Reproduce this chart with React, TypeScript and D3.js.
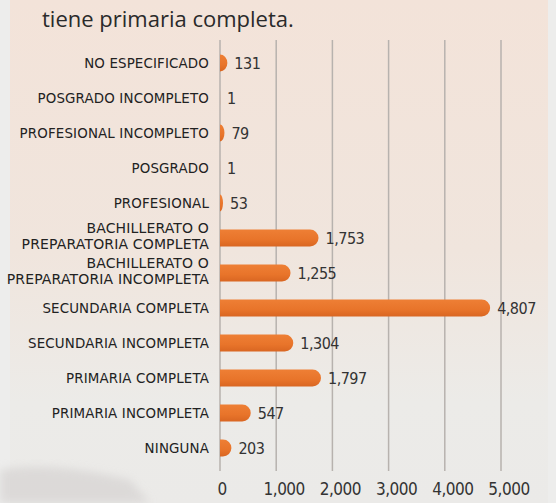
import React from "react";
import * as d3 from "d3";

const categories = [
  "NO ESPECIFICADO",
  "POSGRADO INCOMPLETO",
  "PROFESIONAL INCOMPLETO",
  "POSGRADO",
  "PROFESIONAL",
  "BACHILLERATO O\nPREPARATORIA COMPLETA",
  "BACHILLERATO O\nPREPARATORIA INCOMPLETA",
  "SECUNDARIA COMPLETA",
  "SECUNDARIA INCOMPLETA",
  "PRIMARIA COMPLETA",
  "PRIMARIA INCOMPLETA",
  "NINGUNA",
];
const values = [131, 1, 79, 1, 53, 1753, 1255, 4807, 1304, 1797, 547, 203];
const tickValues = [0, 1000, 2000, 3000, 4000, 5000];
const titleText = "tiene primaria completa.";

const W = 556;
const H = 503;
const FONT = "'DejaVu Sans Condensed', 'DejaVu Sans', sans-serif";
const LABEL_FONT = "'DejaVu Sans', sans-serif";

function barPath(x0: number, y0: number, w: number, h: number) {
  if (w <= 0) return "";
  const ry = h / 2;
  const rx = Math.min(ry, w);
  return `M${x0},${y0}H${x0 + w - rx}A${rx},${ry} 0 0 1 ${x0 + w},${y0 + ry}A${rx},${ry} 0 0 1 ${x0 + w - rx},${y0 + h}H${x0}Z`;
}

export default function App() {
  const x = d3.scaleLinear().domain([0, 5000]).range([220, 501]);
  const y = d3
    .scaleBand<string>()
    .domain(categories)
    .range([45.5, 465.5])
    .paddingInner(0.5)
    .paddingOuter(0.25);
  const bh = 17;
  const fmt = d3.format(",");

  return (
    <svg
      width={W}
      height={H}
      style={{ position: "absolute", left: 0, top: 0, display: "block" }}
    >
      <defs>
        <linearGradient id="bg" x1="0" y1="0" x2="0" y2="1">
          <stop offset="0" stopColor="#f3e3d9" />
          <stop offset="0.5" stopColor="#f0e5dd" />
          <stop offset="0.8" stopColor="#ecebe8" />
          <stop offset="1" stopColor="#ebeae8" />
        </linearGradient>
        <linearGradient id="bar" x1="0" y1="0" x2="0" y2="1">
          <stop offset="0" stopColor="#ee7f35" />
          <stop offset="0.6" stopColor="#e8742a" />
          <stop offset="1" stopColor="#d96622" />
        </linearGradient>
        <filter id="blur" x="-20%" y="-20%" width="140%" height="140%">
          <feGaussianBlur stdDeviation="4" />
        </filter>
      </defs>
      <rect x={0} y={0} width={W} height={H} fill="#ededec" />
      <rect x={10} y={0} width={538} height={H} fill="url(#bg)" />
      <path
        d="M0,470 C40,462 90,470 130,480 L150,503 L0,503 Z"
        fill="#d6d3d2"
        opacity={0.7}
        filter="url(#blur)"
      />
      <text
        x={42}
        y={27}
        fontFamily="'Open Sans', sans-serif"
        fontSize={22}
        fill="#2a2a2a"
      >
        {titleText}
      </text>
      {tickValues.map((t) => (
        <line
          key={`g${t}`}
          x1={x(t)}
          x2={x(t)}
          y1={40}
          y2={471}
          stroke="#b7b2ae"
          strokeWidth={1.5}
        />
      ))}
      {categories.map((c, i) => {
        const cy = (y(c) as number) + y.bandwidth() / 2;
        const w = x(values[i]) - x(0);
        const lines = c.split("\n");
        const multi = lines.length > 1;
        const lc = multi ? cy - 2 : cy;
        return (
          <g key={c}>
            <path d={barPath(x(0), cy - bh / 2, w, bh)} fill="url(#bar)" />
            {lines.map((ln, k) => (
              <text
                key={k}
                x={209}
                y={lc + (k - (lines.length - 1) / 2) * 15.4}
                dy="0.36em"
                textAnchor="end"
                fontFamily={LABEL_FONT}
                fontSize={multi ? 14 : 13.4}
                letterSpacing={multi ? 0.15 : 0.15}
                fill="#222"
              >
                {ln}
              </text>
            ))}
            <text
              x={x(values[i]) + 7}
              y={cy}
              dy="0.4em"
              fontFamily={FONT}
              fontSize={16}
              letterSpacing={-0.5}
              fill="#333"
            >
              {fmt(values[i])}
            </text>
          </g>
        );
      })}
      {tickValues.map((t) => (
        <text
          key={`t${t}`}
          x={x(t) + (t === 0 ? 2 : 8)}
          y={495}
          textAnchor="middle"
          fontFamily={FONT}
          fontSize={17}
          letterSpacing={-0.5}
          fill="#333"
        >
          {fmt(t)}
        </text>
      ))}
    </svg>
  );
}
